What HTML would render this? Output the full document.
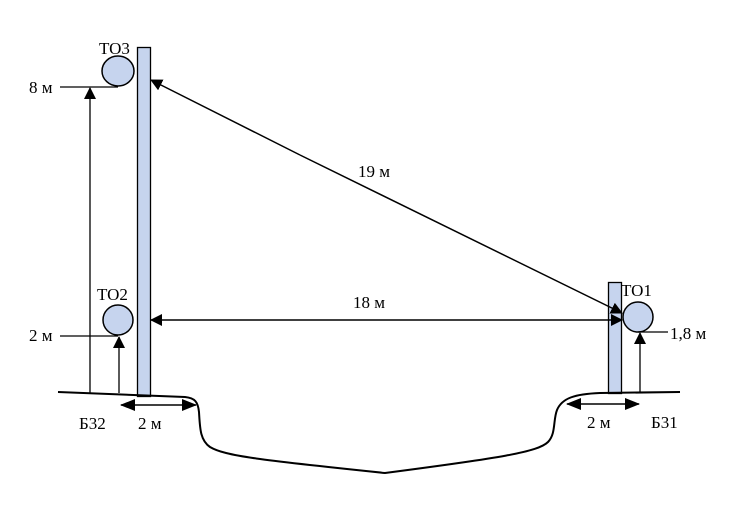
<!DOCTYPE html>
<html><head><meta charset="utf-8"><style>
html,body{margin:0;padding:0;background:#fff;}
svg{display:block;}
text{font-family:"Liberation Serif",serif;font-size:17px;fill:#000;}
</style></head><body>
<svg width="756" height="528" viewBox="0 0 756 528" xmlns="http://www.w3.org/2000/svg">
<defs>
<marker id="a" markerWidth="12" markerHeight="12" refX="11" refY="6" orient="auto" markerUnits="userSpaceOnUse">
<path d="M0,0 L12,6 L0,12 z" fill="#000"/></marker>
<marker id="b" markerWidth="15" markerHeight="12" refX="14" refY="6" orient="auto" markerUnits="userSpaceOnUse">
<path d="M0,0 L15,6 L0,12 z" fill="#000"/></marker>
</defs>
<rect x="137.5" y="47.5" width="13" height="349" fill="#c6d4ee" stroke="#000" stroke-width="1.3"/>
<rect x="608.5" y="282.5" width="13" height="111" fill="#c6d4ee" stroke="#000" stroke-width="1.3"/>
<path d="M58,392 L185,397 C195,398 198,402 199,412 C200,428 200,440 210,447 C225,456 260,460 385,473 C500,458 538,452 548,442 C556,434 553,420 557,410 C562,398 575,394 600,393 L680,392" fill="none" stroke="#000" stroke-width="2"/>
<ellipse cx="118" cy="71" rx="16" ry="15" fill="#c6d4ee" stroke="#000" stroke-width="1.5"/>
<ellipse cx="118" cy="320" rx="15" ry="15" fill="#c6d4ee" stroke="#000" stroke-width="1.5"/>
<ellipse cx="638" cy="317" rx="15" ry="15" fill="#c6d4ee" stroke="#000" stroke-width="1.5"/>
<line x1="60" y1="87" x2="118" y2="87" stroke="#000" stroke-width="1.3"/>
<line x1="60" y1="336" x2="118" y2="336" stroke="#000" stroke-width="1.3"/>
<line x1="638" y1="332" x2="668" y2="332" stroke="#000" stroke-width="1.3"/>
<line x1="90" y1="393" x2="90" y2="88" stroke="#000" stroke-width="1.3" marker-end="url(#a)"/>
<line x1="119" y1="393" x2="119" y2="337" stroke="#000" stroke-width="1.3" marker-end="url(#a)"/>
<line x1="640" y1="392" x2="640" y2="333" stroke="#000" stroke-width="1.3" marker-end="url(#a)"/>
<line x1="300" y1="155" x2="151" y2="80" stroke="#000" stroke-width="1.5" marker-end="url(#a)"/>
<line x1="300" y1="155" x2="622" y2="313" stroke="#000" stroke-width="1.5" marker-end="url(#a)"/>
<line x1="380" y1="320" x2="151" y2="320" stroke="#000" stroke-width="1.5" marker-end="url(#a)"/>
<line x1="380" y1="320" x2="622" y2="320" stroke="#000" stroke-width="1.5" marker-end="url(#a)"/>
<line x1="160" y1="405" x2="121" y2="405" stroke="#000" stroke-width="1.5" marker-end="url(#b)"/>
<line x1="160" y1="405" x2="196" y2="405" stroke="#000" stroke-width="1.5" marker-end="url(#b)"/>
<line x1="600" y1="404" x2="567" y2="404" stroke="#000" stroke-width="1.5" marker-end="url(#b)"/>
<line x1="600" y1="404" x2="639" y2="404" stroke="#000" stroke-width="1.5" marker-end="url(#b)"/>
<text x="99" y="54">ТО3</text>
<text x="29" y="93">8 м</text>
<text x="97" y="300">ТО2</text>
<text x="29" y="341">2 м</text>
<text x="621" y="296">ТО1</text>
<text x="670" y="339">1,8 м</text>
<text x="358" y="177">19 м</text>
<text x="353" y="308">18 м</text>
<text x="79" y="429">Б32</text>
<text x="138" y="429">2 м</text>
<text x="587" y="428">2 м</text>
<text x="651" y="428">Б31</text>
</svg>
</body></html>
